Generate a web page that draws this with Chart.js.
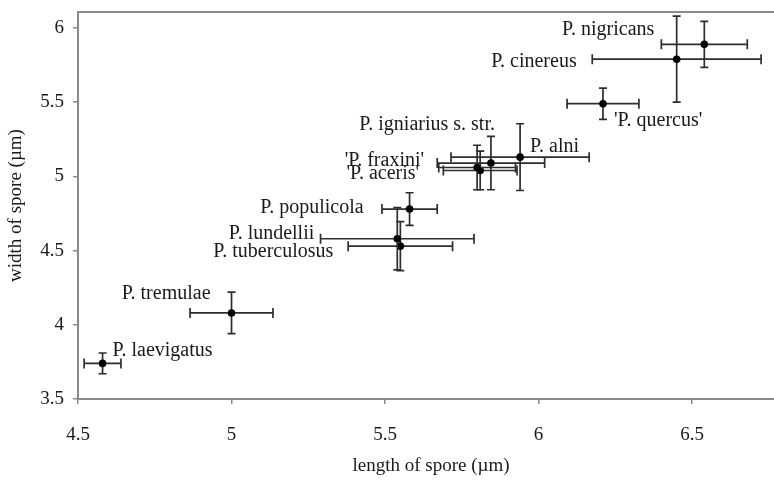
<!DOCTYPE html>
<html>
<head>
<meta charset="utf-8">
<script src="https://cdn.jsdelivr.net/npm/chart.js@4/dist/chart.umd.min.js"></script>
<style>
html,body{margin:0;padding:0;background:#fff;}
#wrap{width:774px;height:483px;}
</style>
</head>
<body>
<div id="wrap"><canvas id="c" width="774" height="483"></canvas></div>
<script>
// ---- data ----
const species = ['P. laevigatus','P. tremulae','P. tuberculosus','P. lundellii','P. populicola',"'P. aceris'","'P. fraxini'",'P. igniarius s. str.','P. alni',"'P. quercus'",'P. cinereus','P. nigricans'];
const sporeLength = [4.58, 5.00, 5.55, 5.54, 5.58, 5.81, 5.80, 5.845, 5.94, 6.21, 6.45, 6.54];
const sporeWidth  = [3.74, 4.08, 4.53, 4.58, 4.78, 5.04, 5.06, 5.09, 5.13, 5.49, 5.79, 5.89];
const lengthErr   = [0.06, 0.135, 0.17, 0.25, 0.09, 0.12, 0.125, 0.175, 0.225, 0.117, 0.275, 0.14];
const widthErr    = [0.07, 0.14, 0.165, 0.21, 0.11, 0.13, 0.15, 0.18, 0.225, 0.105, 0.29, 0.155];
const xTicks = [4.5, 5, 5.5, 6, 6.5];
const yTicks = [3.5, 4, 4.5, 5, 5.5, 6];
const xTitle = 'length of spore (\u00b5m)';
const yTitle = 'width of spore (\u00b5m)';

// label placement (pixel offsets from the point, alignment)
const labelPlace = [
  {dx: 10, dy: -13, align: 'left'},
  {dx: -21, dy: -19, align: 'right'},
  {dx: -67, dy: 6, align: 'right'},
  {dx: -83, dy: -5, align: 'right'},
  {dx: -46, dy: -1, align: 'right'},
  {dx: -61, dy: 3, align: 'right'},
  {dx: -53, dy: -7, align: 'right'},
  {dx: 4, dy: -38, align: 'right'},
  {dx: 10, dy: -10, align: 'left'},
  {dx: 11, dy: 17, align: 'left'},
  {dx: -100, dy: 3, align: 'right'},
  {dx: -50, dy: -15, align: 'right'}
];

const FONT = '"Liberation Serif", "Times New Roman", serif';
const AXIS = '#8a8a8a';
const INK = '#1a1a1a';

const points = sporeLength.map((x, i) => ({x: x, y: sporeWidth[i]}));

const errorBars = {
  id: 'errorBars',
  beforeDraw(chart) {
    const ctx = chart.ctx;
    ctx.save();
    ctx.fillStyle = '#fff';
    ctx.fillRect(0, 0, chart.width, chart.height);
    ctx.restore();
  },
  afterDatasetsDraw(chart) {
    const ctx = chart.ctx;
    const xs = chart.scales.x, ys = chart.scales.y;
    ctx.save();
    ctx.strokeStyle = '#2e2e2e';
    ctx.lineWidth = 1.7;
    for (let i = 0; i < points.length; i++) {
      const px = xs.getPixelForValue(sporeLength[i]);
      const py = ys.getPixelForValue(sporeWidth[i]);
      const xl = xs.getPixelForValue(sporeLength[i] - lengthErr[i]);
      const xr = xs.getPixelForValue(sporeLength[i] + lengthErr[i]);
      const yt = ys.getPixelForValue(sporeWidth[i] + widthErr[i]);
      const yb = ys.getPixelForValue(sporeWidth[i] - widthErr[i]);
      ctx.beginPath();
      ctx.moveTo(xl, py); ctx.lineTo(xr, py);
      ctx.moveTo(xl, py - 5); ctx.lineTo(xl, py + 5);
      ctx.moveTo(xr, py - 5); ctx.lineTo(xr, py + 5);
      ctx.moveTo(px, yt); ctx.lineTo(px, yb);
      ctx.moveTo(px - 4, yt); ctx.lineTo(px + 4, yt);
      ctx.moveTo(px - 4, yb); ctx.lineTo(px + 4, yb);
      ctx.stroke();
      ctx.fillStyle = '#000';
      ctx.beginPath();
      ctx.arc(px, py, 3.8, 0, Math.PI * 2);
      ctx.fill();
    }
    // labels
    ctx.fillStyle = INK;
    ctx.font = '20px ' + FONT;
    ctx.textBaseline = 'middle';
    for (let i = 0; i < species.length; i++) {
      const px = xs.getPixelForValue(sporeLength[i]);
      const py = ys.getPixelForValue(sporeWidth[i]);
      const p = labelPlace[i];
      ctx.textAlign = p.align;
      ctx.fillText(species[i], px + p.dx, py + p.dy);
    }
    // top frame line
    const a = chart.chartArea;
    ctx.strokeStyle = AXIS;
    ctx.lineWidth = 2;
    ctx.beginPath();
    ctx.moveTo(a.left, a.top); ctx.lineTo(a.right, a.top);
    ctx.stroke();
    // axis titles
    ctx.fillStyle = INK;
    ctx.font = '19px ' + FONT;
    ctx.textAlign = 'center';
    ctx.textBaseline = 'middle';
    ctx.fillText(xTitle, 431, 466);
    ctx.save();
    ctx.translate(16, (a.top + a.bottom) / 2);
    ctx.rotate(-Math.PI / 2);
    ctx.fillText(yTitle, 0, 0);
    ctx.restore();
    ctx.restore();
  }
};

const fmt = v => String(v);

new Chart(document.getElementById('c'), {
  type: 'scatter',
  data: {
    datasets: [{
      data: points,
      pointRadius: 0,
      pointHoverRadius: 0,
      backgroundColor: '#000',
      borderColor: '#000'
    }]
  },
  options: {
    responsive: false,
    animation: false,
    events: [],
    layout: {padding: {top: 12, right: 0, left: 0, bottom: 0}},
    plugins: {legend: {display: false}, tooltip: {enabled: false}},
    scales: {
      x: {
        type: 'linear',
        min: 4.5,
        max: 6.767,
        afterBuildTicks(s) { s.ticks = xTicks.map(v => ({value: v})); },
        afterFit(s) { s.height = 84; s.paddingLeft = 0; s.paddingRight = 0; },
        grid: {display: true, drawOnChartArea: false, drawTicks: true, tickLength: 5, color: AXIS, lineWidth: 1.5},
        border: {display: true, color: AXIS, width: 2},
        ticks: {color: INK, font: {family: FONT, size: 19}, padding: 20, maxRotation: 0, autoSkip: false, callback: fmt}
      },
      y: {
        type: 'linear',
        min: 3.5,
        max: 6.108,
        afterBuildTicks(s) { s.ticks = yTicks.map(v => ({value: v})); },
        afterFit(s) { s.width = 78; s.paddingTop = 0; s.paddingBottom = 0; },
        grid: {display: true, drawOnChartArea: false, drawTicks: true, tickLength: 5, color: AXIS, lineWidth: 1.5},
        border: {display: true, color: AXIS, width: 2},
        ticks: {color: INK, font: {family: FONT, size: 19}, padding: 9, autoSkip: false, callback: fmt}
      }
    }
  },
  plugins: [errorBars]
});
</script>
</body>
</html>
